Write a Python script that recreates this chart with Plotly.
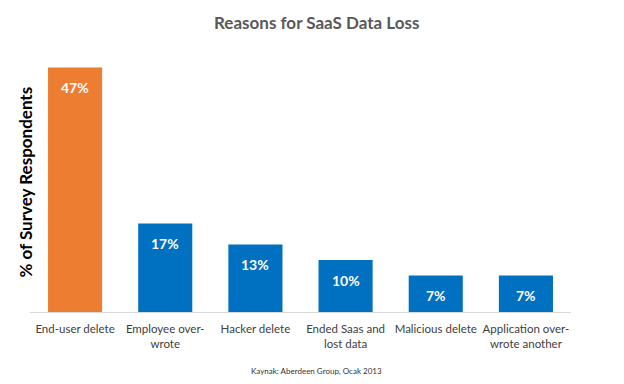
import plotly.graph_objects as go

categories = ["End-user delete", "Employee over-<br>wrote", "Hacker delete",
              "Ended Saas and<br>lost data", "Malicious delete", "Application over-<br>wrote another"]
values = [47, 17, 13, 10, 7, 7]
labels = ["47%", "17%", "13%", "10%", "7%", "7%"]
colors = ["#ED7D31", "#0070C0", "#0070C0", "#0070C0", "#0070C0", "#0070C0"]

fig = go.Figure()
fig.add_trace(go.Bar(x=categories, y=values, marker=dict(color=colors, line=dict(width=0)),
                     width=0.6, hoverinfo="skip"))

for c, v, t in zip(categories, values, labels):
    fig.add_annotation(x=c, y=v, xref="x", yref="y", text="<b>" + t + "</b>", showarrow=False,
                       yshift=-20, font=dict(family="Lato", size=14, color="white"))

fig.add_annotation(text="<b>% of Survey Respondents</b>", textangle=-90, xref="paper", yref="paper",
                   x=-0.01, y=0.5, xanchor="center", yanchor="middle", showarrow=False,
                   font=dict(family="Lato", size=17, color="#000000"))
fig.add_annotation(text="Reasons for SaaS Data Loss", xref="paper", yref="paper",
                   x=0.53, y=1.0, yshift=30, showarrow=False, xanchor="center", yanchor="middle",
                   font=dict(family="Lato", size=17, color="#595959", weight="bold"))
fig.add_annotation(text="Kaynak: Aberdeen Group, Ocak 2013", xref="paper", yref="paper",
                   x=0.53, y=0, yshift=-59, showarrow=False, xanchor="center", yanchor="middle",
                   font=dict(family="Lato", size=8, color="#333333"))

fig.update_layout(
    width=616, height=376,
    margin=dict(l=22, r=53, t=44, b=72, autoexpand=False),
    paper_bgcolor="white", plot_bgcolor="white",
    showlegend=False,
    xaxis=dict(showline=True, linecolor="#D9D9D9", linewidth=1, ticks="", showgrid=False,
               automargin=False, ticklabelstandoff=6,
               tickfont=dict(family="Lato", size=11.5, color="#404040")),
    yaxis=dict(range=[0, 50], visible=False, showgrid=False, zeroline=False, automargin=False),
)

fig.write_html("out.html")
